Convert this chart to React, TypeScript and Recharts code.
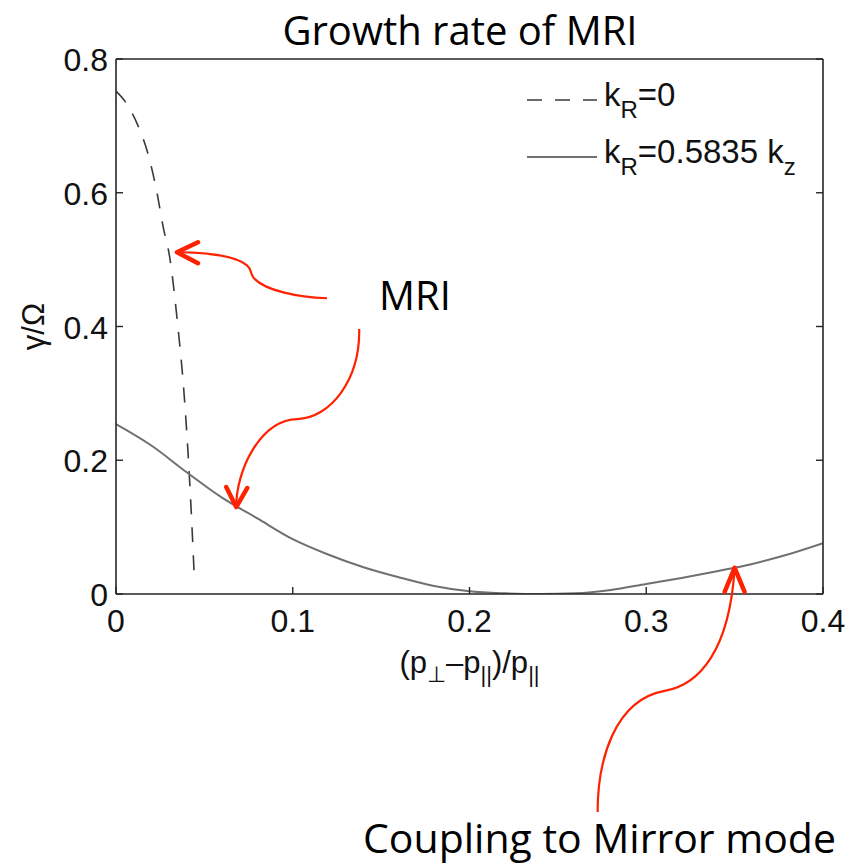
import React from "react";
import { LineChart, Line, XAxis, YAxis, Legend, ReferenceDot } from "recharts";

const xTicks = [0, 0.1, 0.2, 0.3, 0.4];
const yTicks = [0, 0.2, 0.4, 0.6, 0.8];

// k_R = 0 branch (dashed)
const kr0X = [0, 0.005, 0.0125, 0.018, 0.0232, 0.0266, 0.0306, 0.035, 0.0385, 0.041, 0.043, 0.0443];
const kr0Y = [0.752, 0.737, 0.7, 0.659, 0.6, 0.55, 0.5, 0.4, 0.3, 0.2, 0.1, 0.025];

// k_R = 0.5835 k_z branch (solid)
const krzX = [0, 0.02, 0.04, 0.06, 0.08, 0.1, 0.12, 0.14, 0.16, 0.18, 0.2, 0.22, 0.24, 0.26, 0.28, 0.3, 0.32, 0.34, 0.36, 0.38, 0.4];
const krzY = [0.254, 0.222, 0.182, 0.144, 0.113, 0.082, 0.059, 0.04, 0.025, 0.012, 0.004, 0.001, 0, 0.001, 0.006, 0.015, 0.024, 0.034, 0.045, 0.059, 0.076];

const seriesNames = ["k_R=0", "k_R=0.5835 k_z"];

// annotation arrow tips, in data units
const arrowTipX = [0.0345, 0.068, 0.35];
const arrowTipY = [0.511, 0.13, 0.039];

const kr0Data = kr0X.map((x, i) => ({ x, y: kr0Y[i] }));
const krzData = krzX.map((x, i) => ({ x, y: krzY[i] }));

const AXIS = "#262626";
const RED = "#ff2200";
const TICK_FONT = "'Liberation Sans', Arial, sans-serif";
const SLIDE_FONT = "'Open Sans', sans-serif";

const seriesStyles = [
  { stroke: "#3a3a3a", width: 1.6, dash: "15 13" },
  { stroke: "#707070", width: 2, dash: undefined as string | undefined },
];

// arrow bodies and heads, relative to the tip
const arrowPaths = [
  {
    body: "M0,0 C35,0 60,5 70,13 C75,17 73,22 77,26 C88,38 120,45 150,46",
    head: "M21,-10 L0,0 L21,11",
  },
  {
    body: "M123,-178 C124,-127 94,-89 61,-88 C24,-87 0,-37 0,0",
    head: "M-10,-20 L0,0 L11,-19",
  },
  {
    body: "M-137,244 C-137,192 -120,132 -70,123 C-35,117 -5,82 0,0",
    head: "M-10,24 L0,0 L10,24",
  },
];

function withSubscripts(label: string, subSize: number, shift: number) {
  const parts = label.split(/_(\w)/);
  const out: React.ReactNode[] = [];
  let lifted = false;
  parts.forEach((p, i) => {
    if (!p) return;
    const sub = i % 2 === 1;
    let dy = 0;
    if (sub && !lifted) dy = shift;
    if (!sub && lifted) dy = -shift;
    lifted = sub;
    out.push(
      <tspan key={i} dy={dy} fontSize={sub ? subSize : undefined}>
        {p}
      </tspan>
    );
  });
  return out;
}

// tick callbacks get the point on the axis line (tickSize and tickMargin are 0)
function BottomTick({ x, y, payload }: any) {
  return (
    <g>
      <line x1={x} x2={x} y1={y} y2={y - 7} stroke={AXIS} strokeWidth={1.4} />
      <text x={x} y={y + 38} textAnchor="middle" fontSize={32} fontFamily={TICK_FONT} fill="#111">
        {String(payload.value)}
      </text>
    </g>
  );
}

function LeftTick({ x, y, payload }: any) {
  return (
    <g>
      <line x1={x} x2={x + 7} y1={y} y2={y} stroke={AXIS} strokeWidth={1.4} />
      <text x={x - 8} y={y + 12} textAnchor="end" fontSize={32} fontFamily={TICK_FONT} fill="#111">
        {String(payload.value)}
      </text>
    </g>
  );
}

function TopTick({ x, y }: any) {
  return <line x1={x} x2={x} y1={y} y2={y + 7} stroke={AXIS} strokeWidth={1.4} />;
}

function RightTick({ x, y }: any) {
  return <line x1={x} x2={x - 7} y1={y} y2={y} stroke={AXIS} strokeWidth={1.4} />;
}

function XTitle({ viewBox }: any) {
  const cx = viewBox.x + viewBox.width / 2;
  return (
    <text x={cx} y={viewBox.y + 79} textAnchor="middle" fontSize={31} fontFamily={TICK_FONT} fill="#111">
      <tspan>(p</tspan>
      <tspan dy={9} fontSize={22}>⊥</tspan>
      <tspan dy={-9}>–p</tspan>
      <tspan dy={9} fontSize={22}>||</tspan>
      <tspan dy={-9}>)/p</tspan>
      <tspan dy={9} fontSize={22}>||</tspan>
    </text>
  );
}

function YTitle({ viewBox }: any) {
  const cy = viewBox.y + viewBox.height / 2;
  const cx = 33;
  return (
    <text
      x={cx}
      y={cy}
      transform={`rotate(-90 ${cx} ${cy})`}
      textAnchor="middle"
      dominantBaseline="central"
      fontSize={31}
      fontFamily={TICK_FONT}
      fill="#111"
    >
      γ/Ω
    </text>
  );
}

function LegendBox({ payload }: any) {
  const items = [...(payload || [])].sort(
    (a: any, b: any) => seriesNames.indexOf(a.value) - seriesNames.indexOf(b.value)
  );
  return (
    <svg width={320} height={130}>
      {items.map((entry: any, i: number) => {
        const st = seriesStyles[seriesNames.indexOf(entry.value)];
        const cy = 40 + i * 57;
        return (
          <g key={entry.value}>
            <line x1={7} x2={77} y1={cy} y2={cy} stroke={st.stroke} strokeWidth={st.width} strokeDasharray={st.dash} />
            <text x={84} y={cy + 6} fontSize={33} fontFamily={TICK_FONT} fill="#111">
              {withSubscripts(entry.value, 24, 12)}
            </text>
          </g>
        );
      })}
    </svg>
  );
}

function arrowShape(idx: number) {
  return ({ cx, cy }: any) => (
    <g transform={`translate(${cx},${cy})`}>
      <path d={arrowPaths[idx].body} fill="none" stroke={RED} strokeWidth={2.2} />
      <path d={arrowPaths[idx].head} fill="none" stroke={RED} strokeWidth={4.5} strokeLinecap="round" strokeLinejoin="round" />
    </g>
  );
}

export default function App() {
  return (
    <div style={{ position: "absolute", left: 0, top: 0, width: 861, height: 864, background: "#fff" }}>
      <LineChart width={861} height={864} margin={{ top: 49, right: 28, bottom: 230, left: 66 }}>
        <XAxis
          type="number"
          dataKey="x"
          domain={[0, 0.4]}
          ticks={xTicks}
          interval={0}
          allowDataOverflow
          height={40}
          tickSize={0}
          tickMargin={0}
          tickLine={false}
          tick={<BottomTick />}
          axisLine={{ stroke: AXIS, strokeWidth: 1.6 }}
          label={{ content: <XTitle /> }}
        />
        <XAxis
          xAxisId="top"
          orientation="top"
          type="number"
          domain={[0, 0.4]}
          ticks={xTicks}
          interval={0}
          allowDataOverflow
          height={10}
          tickSize={0}
          tickMargin={0}
          tickLine={false}
          tick={<TopTick />}
          axisLine={{ stroke: AXIS, strokeWidth: 1.6 }}
        />
        <YAxis
          type="number"
          domain={[0, 0.8]}
          ticks={yTicks}
          interval={0}
          allowDataOverflow
          width={50}
          tickSize={0}
          tickMargin={0}
          tickLine={false}
          tick={<LeftTick />}
          axisLine={{ stroke: AXIS, strokeWidth: 1.6 }}
          label={{ content: <YTitle /> }}
        />
        <YAxis
          yAxisId="right"
          orientation="right"
          type="number"
          domain={[0, 0.8]}
          ticks={yTicks}
          interval={0}
          allowDataOverflow
          width={10}
          tickSize={0}
          tickMargin={0}
          tickLine={false}
          tick={<RightTick />}
          axisLine={{ stroke: AXIS, strokeWidth: 1.6 }}
        />
        <Line
          data={kr0Data}
          dataKey="y"
          name={seriesNames[0]}
          type="monotone"
          stroke={seriesStyles[0].stroke}
          strokeWidth={seriesStyles[0].width}
          strokeDasharray={seriesStyles[0].dash}
          dot={false}
          activeDot={false}
          isAnimationActive={false}
        />
        <Line
          data={krzData}
          dataKey="y"
          name={seriesNames[1]}
          type="monotone"
          stroke={seriesStyles[1].stroke}
          strokeWidth={seriesStyles[1].width}
          dot={false}
          activeDot={false}
          isAnimationActive={false}
        />
        {arrowTipX.map((x, i) => (
          <ReferenceDot key={i} x={x} y={arrowTipY[i]} ifOverflow="visible" shape={arrowShape(i)} />
        ))}
        <Legend
          layout="vertical"
          align="center"
          verticalAlign="middle"
          wrapperStyle={{ left: 520, top: 60, width: 320 }}
          content={<LegendBox />}
        />
      </LineChart>
      <svg
        width={861}
        height={864}
        style={{ position: "absolute", left: 0, top: 0, pointerEvents: "none" }}
      >
        <text x={460} y={45} textAnchor="middle" fontSize={40} fontFamily={SLIDE_FONT} fill="#000">
          Growth rate of MRI
        </text>
        <text x={379} y={310} fontSize={40} fontFamily={SLIDE_FONT} fill="#000">
          MRI
        </text>
        <text x={363} y={853} fontSize={41} fontFamily={SLIDE_FONT} fill="#000">
          Coupling to Mirror mode
        </text>
      </svg>
    </div>
  );
}
